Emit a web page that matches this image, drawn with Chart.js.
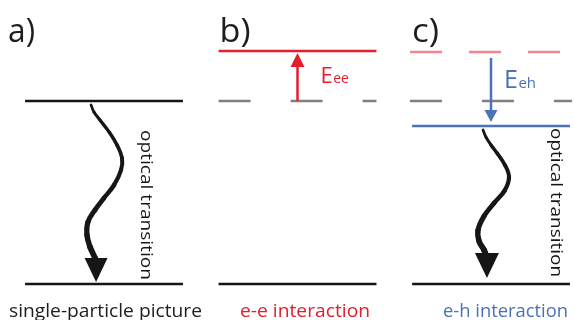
<!DOCTYPE html>
<html><head><meta charset="utf-8">
<script src="https://cdn.jsdelivr.net/npm/chart.js@4.4.0/dist/chart.umd.min.js"></script>
<style>html,body{margin:0;padding:0;background:#fff;}canvas{display:block;}</style>
</head><body>
<canvas id="c" width="574" height="320"></canvas>
<script>
// ---------------- data ----------------
const panelLabels = ['a)', 'b)', 'c)'];
const captions = ['single-particle picture', 'e-e interaction', 'e-h interaction'];
const panelX = [0, 1, 2];
const groundLevel = [0, 0, 0];
const singleParticleLevel = [1, 1, 1];   // solid in a, dashed grey in b and c
const eeLevel = [null, 1.273, 1.268];     // solid red in b, dashed pink in c
const ehLevel = [null, null, 0.863];      // solid blue in c
const transitionLabel = 'optical transition';
const energySymbol = 'E';
const energySubscripts = [null, 'ee', 'eh'];
// wavy optical transition: fraction of the way down from the upper level, sideways offset
const waveT_a  = [0.022, 0.060, 0.104, 0.169, 0.240, 0.311, 0.377, 0.459, 0.530, 0.596, 0.661, 0.732, 0.798, 0.858, 0.896];
const waveDx_a = [-0.067, -0.052, -0.021, 0.026, 0.067, 0.093, 0.088, 0.052, 0.000, -0.047, -0.083, -0.088, -0.072, -0.047, -0.041];
const waveT_c  = [0.025, 0.070, 0.120, 0.171, 0.247, 0.323, 0.405, 0.487, 0.570, 0.658, 0.728, 0.785, 0.835];
const waveDx_c = [-0.041, -0.026, 0.000, 0.031, 0.072, 0.093, 0.072, 0.016, -0.036, -0.067, -0.062, -0.036, -0.021];

// ---------------- styles ----------------
const BLACK = '#161616', RED = '#e31e2d', PINK = '#f0868f', GRAY = '#808080', BLUE = '#4a72b8';
const FONT = '"Open Sans", "Noto Sans", sans-serif';
const HALF = 0.408, HALF_WIDE = 0.419;
const X_MIN = -0.5375, X_MAX = 2.4289, Y_MIN = -0.1967, Y_MAX = 1.5519;

function levelLine(cx, E, color, dash, half) {
  return { data: [{x: cx - half, y: E}, {x: cx + half, y: E}], showLine: true,
    borderColor: color, borderWidth: 2.5, borderDash: dash || [], pointRadius: 0, fill: false };
}
function wave(cx, upper, lower, T, DX) {
  const pts = T.map((t, i) => ({x: cx + DX[i], y: upper - t * (upper - lower)}));
  const n = pts.length;
  return { data: pts, showLine: true, borderColor: BLACK, tension: 0.4, pointRadius: 0,
    borderCapStyle: 'round', borderJoinStyle: 'round', borderWidth: 3,
    segment: { borderWidth: c => 2.8 + 3.2 * (c.p0DataIndex / (n - 2)) } };
}

const datasets = [
  levelLine(panelX[0], groundLevel[0], BLACK, null, HALF),
  levelLine(panelX[0], singleParticleLevel[0], BLACK, null, HALF),
  levelLine(panelX[1], groundLevel[1], BLACK, null, HALF),
  levelLine(panelX[1], singleParticleLevel[1], GRAY, [32, 40], HALF),
  levelLine(panelX[1], eeLevel[1], RED, null, HALF),
  levelLine(panelX[2], groundLevel[2], BLACK, null, HALF),
  levelLine(panelX[2], singleParticleLevel[2], GRAY, [32, 40], HALF_WIDE),
  levelLine(panelX[2], eeLevel[2], PINK, [32, 27], HALF_WIDE),
  levelLine(panelX[2], ehLevel[2], BLUE, null, HALF),
  wave(panelX[0], singleParticleLevel[0], groundLevel[0], waveT_a, waveDx_a),
  wave(panelX[2], ehLevel[2], groundLevel[2], waveT_c, waveDx_c)
];

function head(ctx, x, tipY, dir, len, half, color) {
  ctx.beginPath();
  ctx.moveTo(x, tipY);
  ctx.lineTo(x - half, tipY - dir * len);
  ctx.lineTo(x + half, tipY - dir * len);
  ctx.closePath();
  ctx.fillStyle = color; ctx.fill();
}
function fitText(ctx, text, x, y, w, font, color, rot) {
  ctx.save();
  ctx.font = font; ctx.fillStyle = color; ctx.textBaseline = 'alphabetic'; ctx.textAlign = 'left';
  const m = ctx.measureText(text).width;
  ctx.translate(x, y);
  if (rot) ctx.rotate(rot);
  ctx.scale(w / m, 1);
  ctx.fillText(text, 0, 0);
  ctx.restore();
}

const diagram = {
  id: 'diagram',
  afterDatasetsDraw(chart) {
    const {ctx, scales: {x, y}} = chart;
    const px = v => x.getPixelForValue(v), py = v => y.getPixelForValue(v);
    ctx.save();
    head(ctx, px(panelX[0] - 0.041), py(groundLevel[0]) - 2, 1, 24, 11.5, BLACK);
    head(ctx, px(panelX[2] - 0.021), py(groundLevel[2]) - 6, 1, 25, 12, BLACK);
    {
      const xx = px(panelX[1]), y0 = py(singleParticleLevel[1]), tip = py(eeLevel[1]) + 2;
      ctx.strokeStyle = RED; ctx.lineWidth = 2.5;
      ctx.beginPath(); ctx.moveTo(xx, y0); ctx.lineTo(xx, tip + 12); ctx.stroke();
      head(ctx, xx, tip, -1, 14, 7, RED);
    }
    {
      const xx = px(panelX[2]), y0 = py(eeLevel[2]) + 6, tip = py(ehLevel[2]) - 4;
      ctx.strokeStyle = BLUE; ctx.lineWidth = 2.5;
      ctx.beginPath(); ctx.moveTo(xx, y0); ctx.lineTo(xx, tip - 10); ctx.stroke();
      head(ctx, xx, tip, 1, 12, 6.5, BLUE);
    }
    {
      const xb = px(panelX[1]) + 23, yb = py(singleParticleLevel[1]) - 18;
      ctx.font = '22px ' + FONT; ctx.fillStyle = RED; ctx.textBaseline = 'alphabetic';
      ctx.fillText(energySymbol, xb, yb);
      const w = ctx.measureText(energySymbol).width;
      ctx.font = '14px ' + FONT; ctx.fillText(energySubscripts[1], xb + w + 0.5, yb);
      const xc = px(panelX[2]) + 13, yc = py(singleParticleLevel[2]) - 13;
      ctx.font = '25px ' + FONT; ctx.fillStyle = BLUE;
      ctx.fillText(energySymbol, xc, yc);
      const w2 = ctx.measureText(energySymbol).width;
      ctx.font = '15px ' + FONT; ctx.fillText(energySubscripts[2], xc + w2 + 0.5, yc);
    }
    fitText(ctx, transitionLabel, px(panelX[0]) + 37, py(singleParticleLevel[0]) + 29, 150, '17px ' + FONT, BLACK, Math.PI / 2);
    fitText(ctx, transitionLabel, px(panelX[2]) + 60, py(ehLevel[2]) + 2, 149, '17px ' + FONT, BLACK, Math.PI / 2);
    panelLabels.forEach((t, i) => fitText(ctx, t, px(panelX[i]) - (i === 0 ? 96 : i === 1 ? 78 : 79), 42, i === 1 ? 31 : 27, '32px ' + FONT, '#1e1e1e'));
    fitText(ctx, captions[0], px(panelX[0]) - 95, 317, 193, '18px ' + FONT, '#1e1e1e');
    fitText(ctx, captions[1], px(panelX[1]) - 57.5, 317, 130, '18px ' + FONT, RED);
    fitText(ctx, captions[2], px(panelX[2]) - 48, 317, 125, '18px ' + FONT, BLUE);
    ctx.restore();
  }
};

new Chart(document.getElementById('c'), {
  type: 'scatter',
  data: { datasets },
  options: {
    responsive: false, animation: false, devicePixelRatio: 1,
    layout: { padding: 0 },
    scales: {
      x: { type: 'linear', min: X_MIN, max: X_MAX, display: false },
      y: { type: 'linear', min: Y_MIN, max: Y_MAX, display: false }
    },
    plugins: { legend: { display: false }, tooltip: { enabled: false } },
    elements: { point: { radius: 0 } }
  },
  plugins: [diagram]
});
</script>
</body></html>
